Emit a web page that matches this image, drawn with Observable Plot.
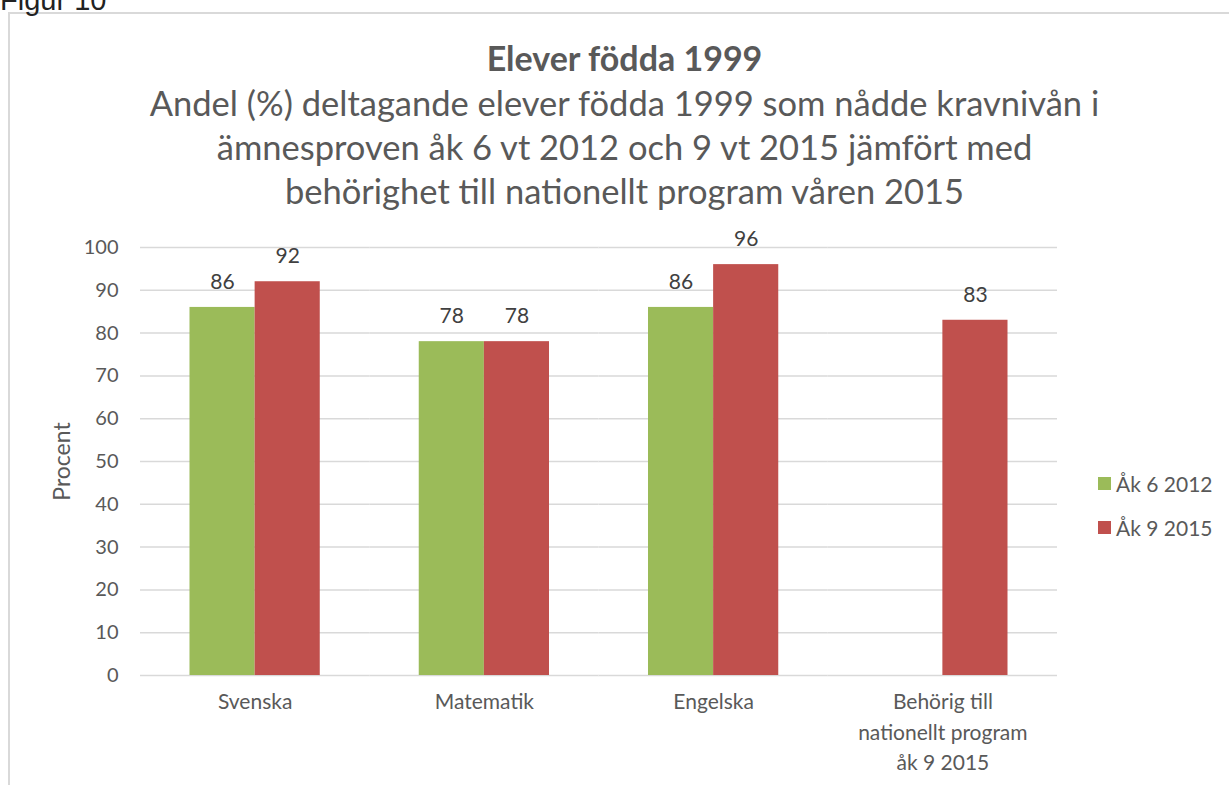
<!DOCTYPE html>
<html><head><meta charset="utf-8">
<script src="https://cdn.jsdelivr.net/npm/d3@7"></script>
<script src="https://cdn.jsdelivr.net/npm/@observablehq/plot@0.6"></script>
<style>
body{margin:0;background:#fff;font-family:Lato,"Open Sans",sans-serif;color:#595959;}
#wrap{position:relative;width:1229px;height:785px;overflow:hidden;}
#frame{position:absolute;left:8px;top:12px;width:1400px;height:900px;border:2px solid #d9d9d9;box-sizing:border-box;}
#fig{position:absolute;left:0;top:-16px;font-size:29px;color:#222;font-family:"Liberation Sans",sans-serif;}
#title{position:absolute;left:0;width:1249px;top:36px;text-align:center;font-weight:bold;font-size:34px;line-height:44px;}
#sub{position:absolute;left:0;width:1249px;top:81px;text-align:center;font-size:34.5px;line-height:44px;}
#chart{position:absolute;left:0;top:0;}
#legend{position:absolute;left:1098px;top:461px;font-size:21px;}
#legend div{height:44px;display:flex;align-items:center;}
#legend span.sw{display:inline-block;width:13px;height:13px;margin-right:5px;}
</style></head>
<body><div id="wrap">
<div id="frame"></div>
<div id="fig">Figur 10</div>
<div id="title">Elever födda 1999</div>
<div id="sub">Andel (%) deltagande elever födda 1999 som nådde kravnivån i<br>ämnesproven åk 6 vt 2012 och 9 vt 2015 jämfört med<br>behörighet till nationellt program våren 2015</div>
<div id="chart"></div>
<div id="legend"></div>
</div>
<script>
const categories = ["Svenska", "Matematik", "Engelska", "Behörig till\nnationellt program\nåk 9 2015"];
const seriesNames = ["Åk 6 2012", "Åk 9 2015"];
const ak6_2012 = [86, 78, 86, null];
const ak9_2015 = [92, 78, 96, 83];
const yTicks = [0, 10, 20, 30, 40, 50, 60, 70, 80, 90, 100];
const colors = ["#9BBB59", "#C0504D"];

const data = [];
categories.forEach((c, i) => {
  if (ak6_2012[i] != null) data.push({cat: c, series: seriesNames[0], value: ak6_2012[i]});
  if (ak9_2015[i] != null) data.push({cat: c, series: seriesNames[1], value: ak9_2015[i]});
});

const plot = Plot.plot({
  width: 1229,
  height: 785,
  marginLeft: 140,
  marginRight: 172,
  marginTop: 247,
  marginBottom: 110,
  style: {fontFamily: "Lato, 'Open Sans', sans-serif", fontSize: "20px", color: "#595959", background: "transparent"},
  fx: {domain: categories, padding: 0, round: false, label: null, axis: null},
  x: {domain: seriesNames, paddingInner: 0, paddingOuter: 0.76, round: false, axis: null},
  y: {domain: [0, 100], ticks: yTicks, label: null},
  color: {domain: seriesNames, range: colors},
  marks: [
    Plot.gridY(yTicks, {stroke: "#d9d9d9", strokeOpacity: 1, strokeWidth: 1.5}),
    Plot.barY(data, {fx: "cat", x: "series", y: "value", fill: "series"}),
    Plot.text(data, {fx: "cat", x: "series", y: "value", text: d => String(d.value), dy: -25, fill: "#404040", fontSize: 21}),
    Plot.axisY(yTicks, {tickSize: 0, tickPadding: 22, label: null, fill: "#595959", fontSize: 20}),
    Plot.text(categories, {fx: d => d, frameAnchor: "bottom", text: d => d, dy: 12, lineAnchor: "top", lineHeight: 1.45, fill: "#595959", fontSize: 21}),
    Plot.text(["Procent"], {fx: () => categories[0], frameAnchor: "left", textAnchor: "middle", dx: -78, rotate: -90, text: d => d, fill: "#595959", fontSize: 23})
  ]
});
document.getElementById("chart").appendChild(plot);

const lg = document.getElementById("legend");
seriesNames.forEach((s, i) => {
  const d = document.createElement("div");
  d.innerHTML = `<span class="sw" style="background:${colors[i]}"></span>${s}`;
  lg.appendChild(d);
});
</script>
</body></html>
